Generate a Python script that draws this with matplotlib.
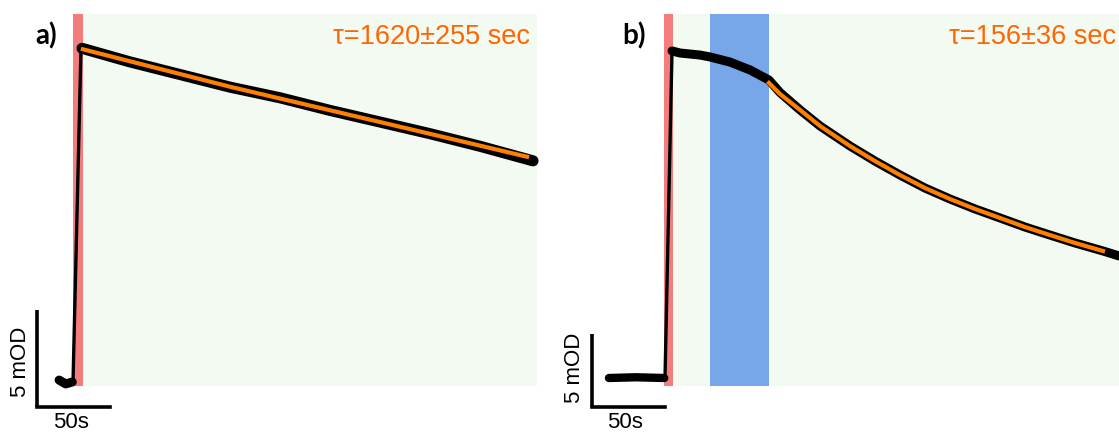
import matplotlib
matplotlib.use("Agg")
import matplotlib.pyplot as plt

# ---- data (time in s, signal in mOD) ----
# panel a
base_t_a = [-9.5, -5.0, -0.5]
base_v_a = [0.1, -0.1, 0.0]
jump_t_a = [0.0, 5.5]
jump_v_a = [0.0, 17.3]
trace_t_a = [6.2, 39.0, 73.3, 107.5, 141.8, 176.0, 210.3, 244.5, 278.8, 315.1]
trace_v_a = [17.2, 16.5, 15.85, 15.2, 14.65, 14.0, 13.4, 12.8, 12.15, 11.4]
fit_t_a = [6.8, 107.5, 210.3, 311.0]
fit_v_a = [17.15, 15.22, 13.40, 11.61]
flash_a = (0.0, 6.8)
window_a = (6.8, 317.8)
label_a = "τ=1620±255 sec"

# panel b
base_t_b = [-38.4, -20.0, -0.5]
base_v_b = [0.0, 0.05, 0.0]
jump_t_b = [0.0, 4.8]
jump_v_b = [0.0, 22.4]
trace_t_b = [4.8, 10.3, 24.0, 30.8, 44.5, 58.2, 71.2, 78.8, 92.5, 106.2, 126.7,
             143.8, 161.0, 178.1, 195.2, 212.3, 229.5, 246.6, 263.7, 280.8, 300.0, 311.0]
trace_v_b = [22.4, 22.26, 22.12, 21.99, 21.64, 21.10, 20.41, 19.55, 18.36, 17.26, 15.89,
             14.86, 13.90, 13.01, 12.26, 11.58, 10.96, 10.34, 9.79, 9.25, 8.70, 8.36]
fit_t_b = [71.2, 78.8, 92.5, 106.2, 126.7, 143.8, 161.0, 178.1, 195.2, 212.3,
           229.5, 246.6, 263.7, 280.8, 300.0]
fit_v_b = [20.21, 19.45, 18.36, 17.26, 15.89, 14.86, 13.90, 13.01, 12.26, 11.58,
           10.96, 10.34, 9.79, 9.25, 8.70]
flash_b = (-0.7, 5.5)
blue_b = (30.8, 71.2)
window_b = (5.5, 311.0)
label_b = "τ=156±36 sec"

W, H = 1119, 432
RED = "#F47C7C"
BLUE = "#77A7E8"
GREEN = "#F3FAF2"
ORANGE = "#FF7F00"
TXT_ORANGE = "#FF6600"

fig = plt.figure(figsize=(W / 100, H / 100), dpi=100)
fig.patch.set_facecolor("white")

span_lo = (H - 386) / H
span_hi = (H - 14) / H


def make_axes(px0, px1, t0_px, base_px, px_per_s, px_per_mod):
    ax = fig.add_axes([px0 / W, 0, (px1 - px0) / W, 1])
    ax.set_xlim((px0 - t0_px) / px_per_s, (px1 - t0_px) / px_per_s)
    ax.set_ylim(-(H - base_px) / px_per_mod, base_px / px_per_mod)
    ax.axis("off")
    return ax


def scale_bar(ax, x0, y0):
    ax.plot([x0, x0], [y0, y0 + 5], color="black", lw=2.6, solid_capstyle="butt")
    ax.plot([x0, x0 + 50], [y0, y0], color="black", lw=2.6, solid_capstyle="projecting")


# ---- panel a ----
ax1 = make_axes(0, 560, 73, 382, 1.46, 19.4)
ax1.axvspan(*window_a, ymin=span_lo, ymax=span_hi, color=GREEN, lw=0)
ax1.axvspan(*flash_a, ymin=span_lo, ymax=span_hi, color=RED, lw=0)
ax1.plot(base_t_a, base_v_a, color="black", lw=6.5, solid_capstyle="round")
ax1.plot(jump_t_a, jump_v_a, color="black", lw=2.4)
ax1.plot(trace_t_a, trace_v_a, color="black", lw=8, solid_capstyle="round",
         solid_joinstyle="round")
ax1.plot(fit_t_a, fit_v_a, color=ORANGE, lw=3)
scale_bar(ax1, -24.7, -1.29)

# ---- panel b ----
ax2 = make_axes(560, 1119, 665, 378, 1.46, 14.6)
ax2.axvspan(*window_b, ymin=span_lo, ymax=span_hi, color=GREEN, lw=0)
ax2.axvspan(*blue_b, ymin=span_lo, ymax=span_hi, color=BLUE, lw=0)
ax2.axvspan(*flash_b, ymin=span_lo, ymax=span_hi, color=RED, lw=0)
ax2.plot(base_t_b, base_v_b, color="black", lw=6, solid_capstyle="round")
ax2.plot(jump_t_b, jump_v_b, color="black", lw=2.4)
ax2.plot(trace_t_b, trace_v_b, color="black", lw=6.5, solid_capstyle="round",
         solid_joinstyle="round")
ax2.plot(fit_t_b, fit_v_b, color=ORANGE, lw=3)
scale_bar(ax2, -50.0, -1.99)

# ---- texts ----
def ftext(x, y, s, **kw):
    fig.text(x / W, 1 - y / H, s, **kw)

ftext(46, 36, "a)", family="Lato", weight="bold", fontsize=20, ha="center", va="center")
ftext(634, 36, "b)", family="Lato", weight="bold", fontsize=20, ha="center", va="center")
ftext(530, 37, label_a, family="Liberation Sans", fontsize=19.5, color=TXT_ORANGE,
      ha="right", va="center")
ftext(1116, 37, label_b, family="Liberation Sans", fontsize=19.5, color=TXT_ORANGE,
      ha="right", va="center")

for x, y in [(20, 362), (575, 368)]:
    ftext(x, y, "5 mOD", family="Liberation Sans", fontsize=16, rotation=90,
          ha="center", va="center")
for x, y in [(71, 423), (625, 423)]:
    ftext(x, y, "50s", family="Liberation Sans", fontsize=16, ha="center", va="center")

fig.savefig("out.png", dpi=100)
